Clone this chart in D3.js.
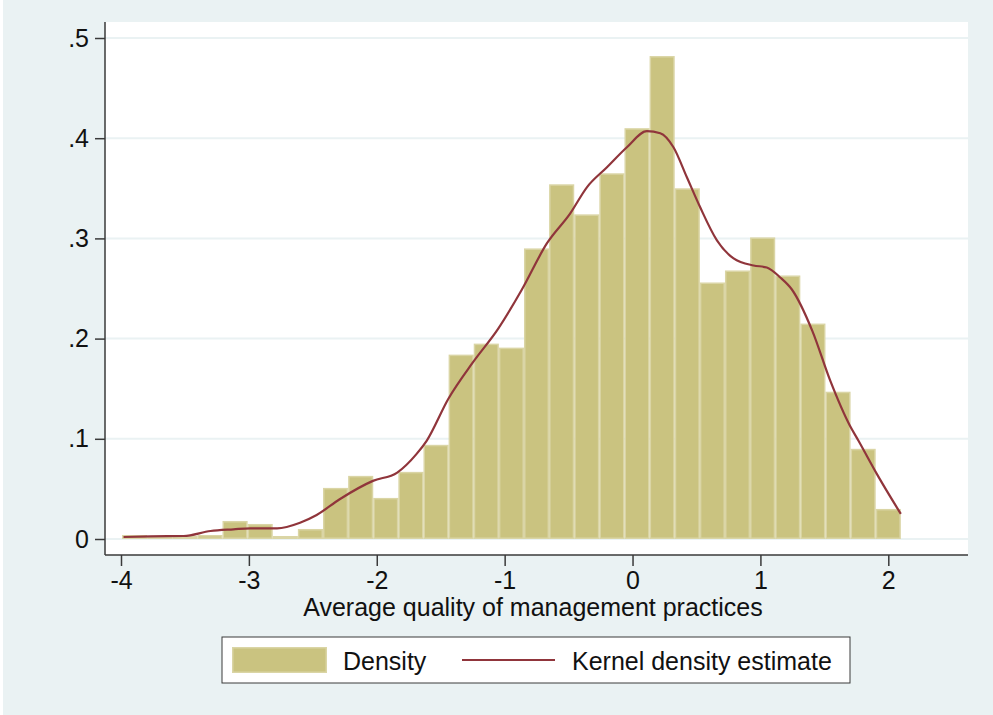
<!DOCTYPE html>
<html>
<head>
<meta charset="utf-8">
<script src="https://cdn.jsdelivr.net/npm/d3@7/dist/d3.min.js"></script>
<style>
  html, body { margin: 0; padding: 0; background: #EAF2F3; }
  svg { display: block; }
  text { font-family: "Liberation Sans", Arial, Helvetica, sans-serif; fill: #111; }
</style>
</head>
<body>
<svg id="chart" width="993" height="715"></svg>
<script>
// ---- Data ----
const binStart = -3.992;
const binWidth = 0.19645;
const densityValues = [
  0.004, 0.003, 0.003, 0.004, 0.018, 0.015, 0.003, 0.010, 0.051, 0.063,
  0.041, 0.067, 0.094, 0.184, 0.195, 0.191, 0.290, 0.354, 0.324, 0.365,
  0.410, 0.482, 0.350, 0.256, 0.268, 0.301, 0.263, 0.215, 0.147, 0.090,
  0.030
];
const kdeX = [
  -3.98, -3.77, -3.51, -3.30, -3.12, -2.99, -2.78, -2.60, -2.47, -2.29,
  -2.03, -1.84, -1.69, -1.61, -1.44, -1.25, -1.05, -0.865, -0.67, -0.487,
  -0.357, -0.20, -0.044, 0.113, 0.217, 0.32, 0.425, 0.529, 0.66, 0.79,
  0.946, 1.05, 1.155, 1.246, 1.405, 1.546, 1.70, 1.767, 1.91, 2.098
];
const kdeY = [
  0.002, 0.0027, 0.003, 0.008, 0.0097, 0.0107, 0.0107, 0.0163, 0.024, 0.0397,
  0.058, 0.0663, 0.0847, 0.098, 0.140, 0.176, 0.210, 0.249, 0.295, 0.325,
  0.351, 0.371, 0.391, 0.407, 0.405, 0.391, 0.361, 0.331, 0.298, 0.280,
  0.273, 0.271, 0.261, 0.249, 0.208, 0.158, 0.113, 0.098, 0.065, 0.025
];
const xTicks = [-4, -3, -2, -1, 0, 1, 2];
const xTickLabels = ["-4", "-3", "-2", "-1", "0", "1", "2"];
const yTicks = [0, 0.1, 0.2, 0.3, 0.4, 0.5];
const yTickLabels = ["0", ".1", ".2", ".3", ".4", ".5"];
const xTitle = "Average quality of management practices";
const legendLabels = ["Density", "Kernel density estimate"];

// ---- Styles ----
const bg = "#EAF2F3";
const barFill = "#CAC380";
const barStroke = "#DAD5A5";
const lineColor = "#90353B";
const axisColor = "#3a3a3a";
const fontSize = 25;

const svg = d3.select("#chart");
const W = 993, H = 715;
const plot = { left: 105, right: 968, top: 22, bottom: 555 };

svg.append("rect").attr("x", 0).attr("y", 0).attr("width", W).attr("height", H).attr("fill", bg);
svg.append("rect").attr("x", 0).attr("y", 0).attr("width", 3).attr("height", H).attr("fill", "#fff");

const x = d3.scaleLinear().domain([-4, 2]).range([121, 888.3]);
const y = d3.scaleLinear().domain([0, 0.5]).range([539, 38]);

// plot region
svg.append("rect")
  .attr("x", plot.left).attr("y", plot.top)
  .attr("width", plot.right - plot.left).attr("height", plot.bottom - plot.top)
  .attr("fill", "#fff");

// gridlines
svg.append("g").selectAll("line").data(yTicks).join("line")
  .attr("x1", plot.left).attr("x2", plot.right)
  .attr("y1", d => y(d)).attr("y2", d => y(d))
  .attr("stroke", bg).attr("stroke-width", 2);

// bars
const bins = densityValues.map((v, i) => ({
  x0: binStart + i * binWidth, x1: binStart + (i + 1) * binWidth, v
}));
svg.append("g").selectAll("rect").data(bins).join("rect")
  .attr("x", d => x(d.x0) + 0.75)
  .attr("width", d => x(d.x1) - x(d.x0) - 1.5)
  .attr("y", d => y(d.v) + 0.75)
  .attr("height", d => Math.max(0, y(0) - y(d.v) - 1.5))
  .attr("fill", barFill)
  .attr("stroke", barStroke)
  .attr("stroke-width", 1.5);

// kde line
const kde = kdeX.map((d, i) => [d, kdeY[i]]);
svg.append("path")
  .datum(kde)
  .attr("fill", "none")
  .attr("stroke", lineColor)
  .attr("stroke-width", 2.2)
  .attr("stroke-linejoin", "round")
  .attr("d", d3.line().x(d => x(d[0])).y(d => y(d[1])).curve(d3.curveMonotoneX));

// y axis
const yAxis = d3.axisLeft(y).tickValues(yTicks).tickSize(10).tickPadding(6)
  .tickFormat((d, i) => yTickLabels[i]);
const gy = svg.append("g").attr("transform", `translate(${plot.left},0)`).call(yAxis);
gy.select(".domain").remove();
gy.append("line").attr("x1", 0).attr("x2", 0).attr("y1", plot.top).attr("y2", plot.bottom)
  .attr("stroke", axisColor).attr("stroke-width", 1.5);
gy.selectAll(".tick line").attr("stroke", axisColor).attr("stroke-width", 1.5);
gy.selectAll(".tick text").attr("font-size", fontSize).attr("fill", "#111")
  .attr("font-family", "Liberation Sans, Arial, sans-serif");

// x axis
const xAxis = d3.axisBottom(x).tickValues(xTicks).tickSize(11).tickPadding(5)
  .tickFormat((d, i) => xTickLabels[i]);
const gx = svg.append("g").attr("transform", `translate(0,${plot.bottom})`).call(xAxis);
gx.select(".domain").remove();
gx.append("line").attr("x1", plot.left).attr("x2", plot.right).attr("y1", 0).attr("y2", 0)
  .attr("stroke", axisColor).attr("stroke-width", 1.5);
gx.selectAll(".tick line").attr("stroke", axisColor).attr("stroke-width", 1.5);
gx.selectAll(".tick text").attr("font-size", fontSize).attr("fill", "#111")
  .attr("font-family", "Liberation Sans, Arial, sans-serif");

// x title
svg.append("text")
  .attr("x", 533).attr("y", 616)
  .attr("text-anchor", "middle")
  .attr("font-size", fontSize)
  .text(xTitle);

// legend
const lg = svg.append("g");
lg.append("rect").attr("x", 222).attr("y", 637).attr("width", 628).attr("height", 46)
  .attr("fill", "#fff").attr("stroke", axisColor).attr("stroke-width", 1);
lg.append("rect").attr("x", 232.75).attr("y", 647.75).attr("width", 93.5).attr("height", 24.5)
  .attr("fill", barFill).attr("stroke", barStroke).attr("stroke-width", 1.5);
lg.append("text").attr("x", 343).attr("y", 669.5).attr("font-size", fontSize).text(legendLabels[0]);
lg.append("line").attr("x1", 462).attr("x2", 555).attr("y1", 660).attr("y2", 660)
  .attr("stroke", lineColor).attr("stroke-width", 2);
lg.append("text").attr("x", 572).attr("y", 669.5).attr("font-size", fontSize).text(legendLabels[1]);
</script>
</body>
</html>
